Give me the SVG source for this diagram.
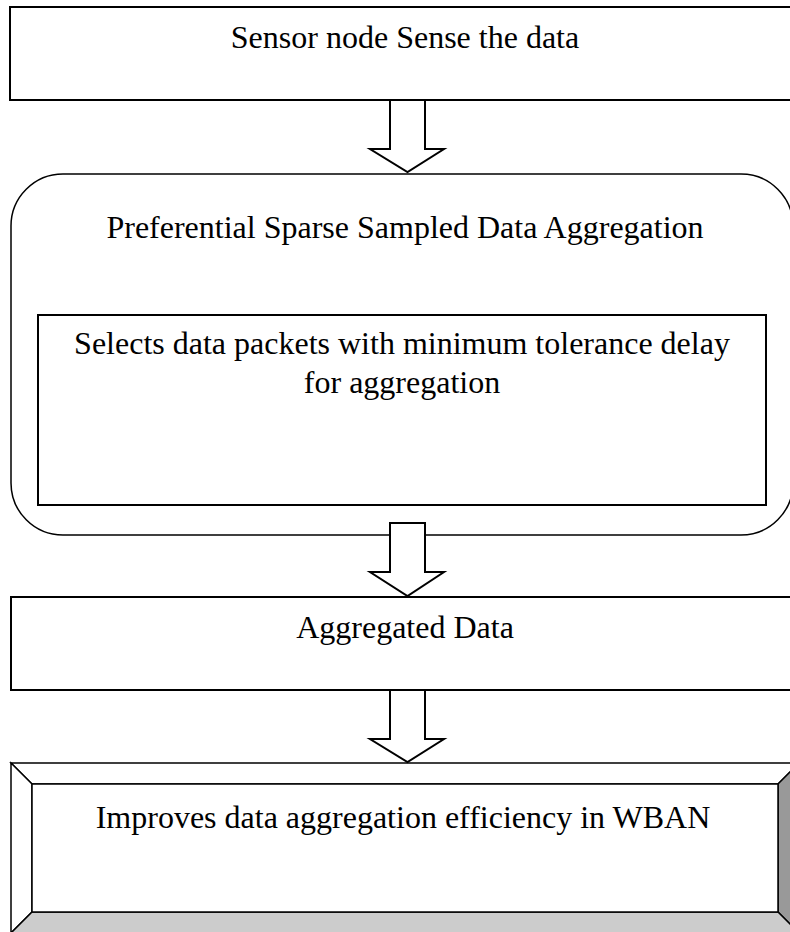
<svg xmlns="http://www.w3.org/2000/svg" width="790" height="932" viewBox="0 0 790 932">
<style>
.box{fill:#fff;stroke:#000;stroke-width:2}
.thin{fill:#fff;stroke:#000;stroke-width:1.5}
.arrow{fill:#fff;stroke:#000;stroke-width:2;stroke-linejoin:miter}
text{font-family:"Liberation Serif","Times New Roman",serif;font-size:32px;fill:#000;text-anchor:middle}
</style>
<rect width="790" height="932" fill="#fff"/>
<g id="node-sense">
<rect class="box" x="10" y="7" width="800" height="93"/>
<text x="405" y="48">Sensor node Sense the data</text>
</g>
<g id="node-pssda">
<rect class="thin" x="11" y="174" width="782" height="361" rx="52" ry="52"/>
<text x="405" y="238">Preferential Sparse Sampled Data Aggregation</text>
</g>
<g id="node-select">
<rect class="box" x="38" y="315" width="728" height="190"/>
<text x="402" y="354">Selects data packets with minimum tolerance delay</text>
<text x="402" y="393">for aggregation</text>
</g>
<g id="node-aggregated">
<rect class="box" x="11" y="597" width="800" height="93"/>
<text x="405" y="638">Aggregated Data</text>
</g>
<g id="node-improves">
<polygon points="11,763 799,763 778,784 32,784" fill="#fff" stroke="#000" stroke-width="1.5"/>
<polygon points="11,763 32,784 32,912 11,933" fill="#fff" stroke="#000" stroke-width="1.5"/>
<polygon points="799,763 799,933 778,912 778,784" fill="#999" stroke="#000" stroke-width="1.5"/>
<polygon points="11,933 32,912 778,912 799,933" fill="#ccc" stroke="#000" stroke-width="1.5"/>
<rect x="32" y="784" width="746" height="128" fill="#fff" stroke="#000" stroke-width="1.5"/>
<text x="403" y="828">Improves data aggregation efficiency in WBAN</text>
</g>
<g id="connectors">
<polygon class="arrow" points="390,100 425,100 425,149 444,149 407.5,172 370,149 390,149"/>
<polygon class="arrow" points="390,523 425,523 425,572 444,572 407.5,596 370,572 390,572"/>
<polygon class="arrow" points="390,690 425,690 425,739 444,739 407.5,762 370,739 390,739"/>
</g>
</svg>
